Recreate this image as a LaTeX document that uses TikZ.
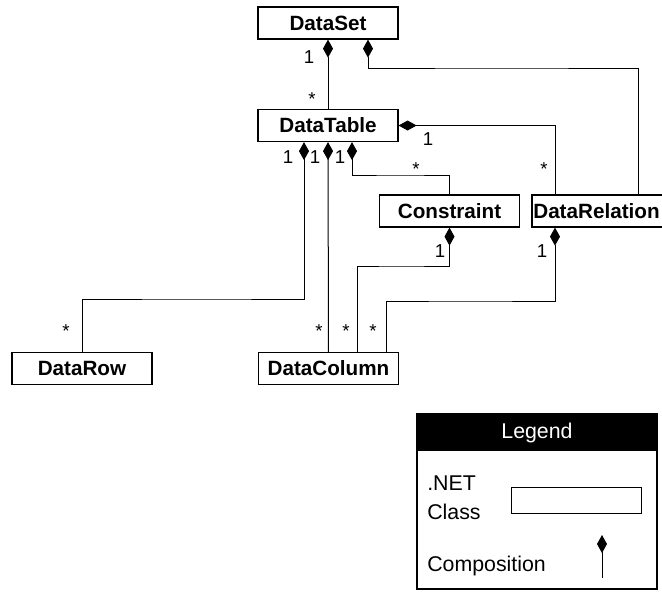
\documentclass[tikz,border=0pt]{standalone}
\usepackage{fontspec}
\setmainfont{Liberation Sans}
\usetikzlibrary{arrows.meta, calc}

\begin{document}
\begin{tikzpicture}[
    x=0.75pt, y=-0.75pt,
    cls/.style={draw, line width=0.9pt, minimum width=105pt, minimum height=24pt,
        inner sep=1pt, font=\fontsize{15.5}{18}\selectfont\bfseries},
    comp/.style={line width=0.75pt, -{Diamond[length=13.5pt, width=7.5pt]}},
    mult/.style={inner sep=0pt, font=\fontsize{14}{16}\selectfont},
]
\useasboundingbox (0,0) rectangle (662,601);
\clip (0,0) rectangle (662,601);

% === Classes ===
\node[cls] (dset) at (328,23) {DataSet};
\node[cls] (dtable) at (328,125.5) {DataTable};
\node[cls] (cons) at (449.5,211) {Constraint};
\node[cls, text width=103pt, align=left] (drel) at (602,211) {DataRelation};
\node[cls] (drow) at (82,368.5) {DataRow};
\node[cls] (dcol) at (328.5,368.5) {DataColumn};

% === Bend points ===
\coordinate (setbend) at (500,68);
\coordinate (consbend) at (400,175);
\coordinate (rowbend) at (200,299);
\coordinate (colbend1) at (400,266);
\coordinate (colbend2) at (470,301);

% === Compositions ===
\draw[comp] (dtable.north) -- (dset.south);
\draw[comp] ($(drel.north)+(36,0)$) |- (setbend) -| ($(dset.south)+(40,0)$);
\draw[comp] ($(drel.north)+(-47,0)$) |- (dtable.east);
\draw[comp] (cons.north) |- (consbend) -| ($(dtable.south)+(24,0)$);
\draw[comp] (dcol.north) -- (dtable.south);
\draw[comp] (drow.north) |- (rowbend) -| ($(dtable.south)+(-24,0)$);
\draw[comp] ($(dcol.north)+(29,0)$) |- (colbend1) -| (cons.south);
\draw[comp] ($(dcol.north)+(58,0)$) |- (colbend2) -| ($(drel.south)+(-47,0)$);

% === Multiplicities ===
\node[mult] (m1) at (309,57) {1};
\node[mult] (m2) at (312,99) {*};
\node[mult] (m3) at (428,139) {1};
\node[mult] (m4) at (544,169) {*};
\node[mult] (m5) at (416,169) {*};
\node[mult] (m6) at (288,157) {1};
\node[mult] (m7) at (315,157) {1};
\node[mult] (m8) at (340,157) {1};
\node[mult] (m9) at (440,251) {1};
\node[mult] (m10) at (542,251) {1};
\node[mult] (m11) at (66,331) {*};
\node[mult] (m12) at (319,331) {*};
\node[mult] (m13) at (346,331) {*};
\node[mult] (m14) at (373,331) {*};

% === Legend ===
\draw[line width=0.9pt] (417,414) rectangle (657,589);
\fill (417,414) rectangle (657,451);
\node[text=white, font=\fontsize{16}{19}\selectfont] (legtitle) at (537,433) {Legend};
\node[anchor=west, align=left, inner sep=0pt, font=\fontsize{16}{21.5}\selectfont] (legclass) at (427,498) {.NET\\Class};
\node[draw, line width=0.9pt, minimum width=98pt, minimum height=20pt, inner sep=0pt] (legbox) at (576.5,500.5) {};
\node[anchor=west, inner sep=0pt, font=\fontsize{16}{19}\selectfont] (legcomp) at (427,566) {Composition};
\coordinate (legfoot) at (602,578);
\draw[comp] (legfoot) -- ++(0,-43);

\end{tikzpicture}
\end{document}
